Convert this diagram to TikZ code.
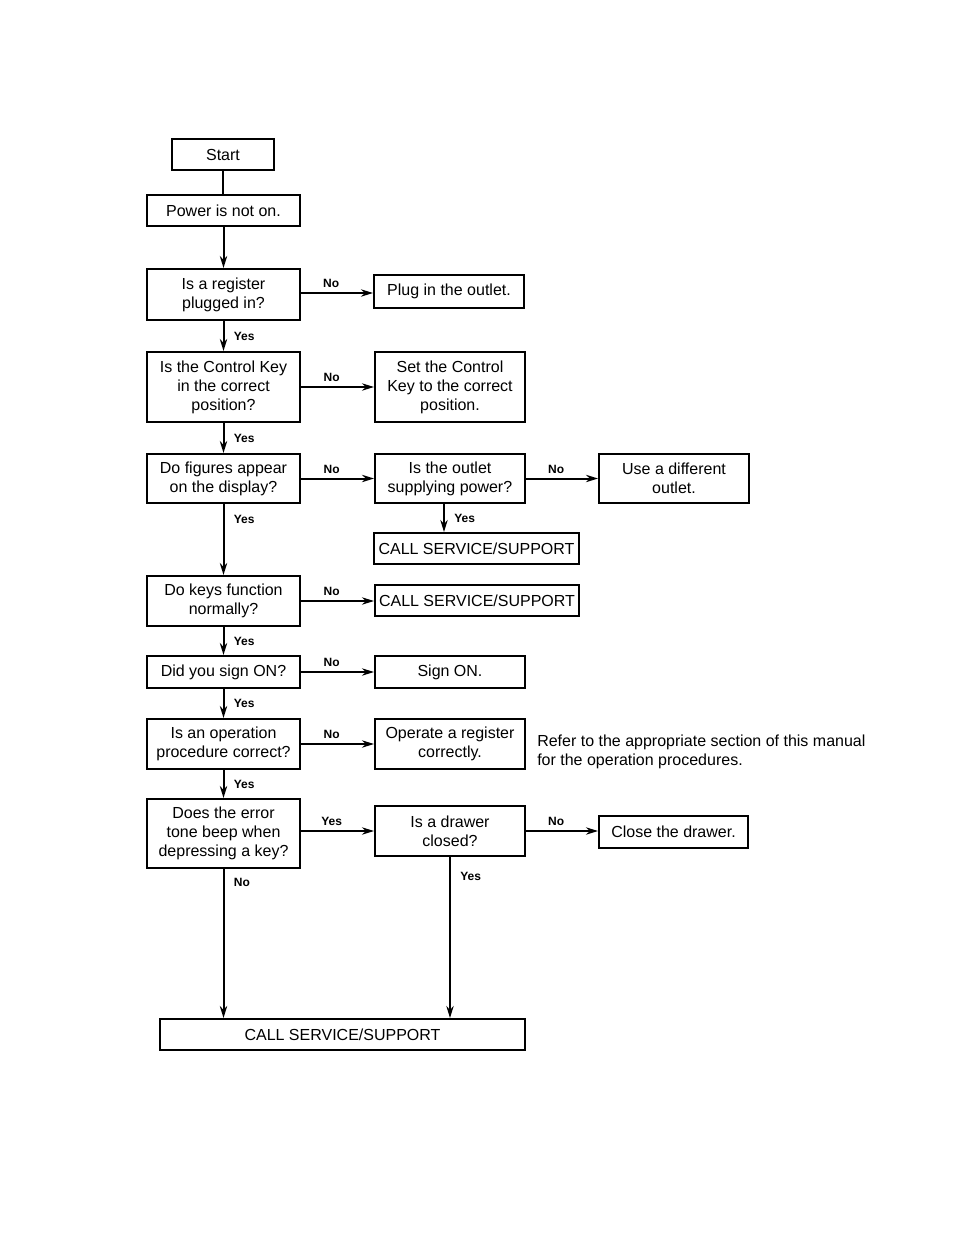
\documentclass[tikz,border=0pt]{standalone}
\usepackage{fontspec}
\setmainfont{Liberation Sans}
\usetikzlibrary{arrows.meta}
\begin{document}
\begin{tikzpicture}[x=0.75pt,y=-0.75pt,
  box/.style={draw,line width=1.5pt,rectangle,inner sep=0pt,align=center,
    font=\fontsize{12}{14.2}\selectfont},
  arr/.style={line width=1.5pt,-{Stealth[length=9pt,width=5.5pt]}},
  ln/.style={line width=1.5pt},
  lbl/.style={font=\fontsize{9}{10}\selectfont\bfseries,inner sep=1pt}]
\useasboundingbox (0,0) rectangle (954,1235);
\node[box,minimum width=0.75pt*102,minimum height=0.75pt*31] (start) at (223,154.5) {Start};
\node[box,minimum width=0.75pt*153,minimum height=0.75pt*31] (power) at (223.5,210.5) {Power is not on.};
\node[box,minimum width=0.75pt*153,minimum height=0.75pt*51] (reg) at (223.5,294.5) {Is a register\\plugged in?};
\node[box,minimum width=0.75pt*150,minimum height=0.75pt*33] (plug) at (449,291.5) {Plug in the outlet.};
\node[box,minimum width=0.75pt*153,minimum height=0.75pt*70] (ckey) at (223.5,387) {Is the Control Key\\in the correct\\position?};
\node[box,minimum width=0.75pt*150,minimum height=0.75pt*70] (setkey) at (450,387) {Set the Control\\Key to the correct\\position.};
\node[box,minimum width=0.75pt*153,minimum height=0.75pt*49] (fig) at (223.5,478.5) {Do figures appear\\on the display?};
\node[box,minimum width=0.75pt*150,minimum height=0.75pt*49] (outlet) at (450,478.5) {Is the outlet\\supplying power?};
\node[box,minimum width=0.75pt*150,minimum height=0.75pt*49] (diff) at (674,478.5) {Use a different\\outlet.};
\node[box,minimum width=0.75pt*205,minimum height=0.75pt*31] (call1) at (476.5,548.5) {CALL SERVICE/SUPPORT};
\node[box,minimum width=0.75pt*153,minimum height=0.75pt*50] (keys) at (223.5,601) {Do keys function\\normally?};
\node[box,minimum width=0.75pt*204,minimum height=0.75pt*31] (call2) at (477,600.5) {CALL SERVICE/SUPPORT};
\node[box,minimum width=0.75pt*153,minimum height=0.75pt*32] (sign) at (223.5,672) {Did you sign ON?};
\node[box,minimum width=0.75pt*150,minimum height=0.75pt*32] (signon) at (450,672) {Sign ON.};
\node[box,minimum width=0.75pt*153,minimum height=0.75pt*50] (oper) at (223.5,744) {Is an operation\\procedure correct?};
\node[box,minimum width=0.75pt*150,minimum height=0.75pt*50] (operate) at (450,744) {Operate a register\\correctly.};
\node[align=left,anchor=west,inner sep=0pt,font=\fontsize{12}{14.2}\selectfont] (refer) at (537,751.5) {Refer to the appropriate section of this manual\\for the operation procedures.};
\node[box,minimum width=0.75pt*153,minimum height=0.75pt*69] (err) at (223.5,833.5) {Does the error\\tone beep when\\depressing a key?};
\node[box,minimum width=0.75pt*150,minimum height=0.75pt*50] (drawer) at (450,831) {Is a drawer\\closed?};
\node[box,minimum width=0.75pt*149,minimum height=0.75pt*32] (close) at (673.5,832) {Close the drawer.};
\node[box,minimum width=0.75pt*365,minimum height=0.75pt*31] (callb) at (342.5,1034.5) {CALL SERVICE/SUPPORT};
% vertical main line
\draw[ln] (start.south) -- (start.south |- power.north);
\draw[arr] (power.south) -- (power.south |- reg.north);
\draw[arr] (reg.south) -- (reg.south |- ckey.north) node[lbl,midway,right,xshift=6pt] {Yes};
\draw[arr] (ckey.south) -- (ckey.south |- fig.north) node[lbl,midway,right,xshift=6pt] {Yes};
\draw[arr] (fig.south) -- (fig.south |- keys.north) node[lbl,pos=0.22,right,xshift=6pt] {Yes};
\draw[arr] (keys.south) -- (keys.south |- sign.north) node[lbl,midway,right,xshift=6pt] {Yes};
\draw[arr] (sign.south) -- (sign.south |- oper.north) node[lbl,midway,right,xshift=6pt] {Yes};
\draw[arr] (oper.south) -- (oper.south |- err.north) node[lbl,midway,right,xshift=6pt] {Yes};
\draw[arr] (err.south) -- (err.south |- callb.north) node[lbl,pos=0.09,right,xshift=6pt] {No};
% horizontal branches
\coordinate (r1) at (reg.east |- 0,293);
\draw[arr] (r1) -- (r1 -| plug.west) node[lbl,pos=0.42,above,yshift=2pt] {No};
\draw[arr] (ckey.east) -- (ckey.east -| setkey.west) node[lbl,pos=0.42,above,yshift=2pt] {No};
\draw[arr] (fig.east) -- (outlet.west) node[lbl,pos=0.42,above,yshift=2pt] {No};
\draw[arr] (outlet.east) -- (diff.west) node[lbl,pos=0.42,above,yshift=2pt] {No};
\draw[arr] ([xshift=-4.5pt]outlet.south) -- ([xshift=-4.5pt]outlet.south |- call1.north) node[lbl,midway,right,xshift=6pt] {Yes};
\draw[arr] (keys.east) -- (keys.east -| call2.west) node[lbl,pos=0.42,above,yshift=2pt] {No};
\draw[arr] (sign.east) -- (signon.west) node[lbl,pos=0.42,above,yshift=2pt] {No};
\draw[arr] (oper.east) -- (operate.west) node[lbl,pos=0.42,above,yshift=2pt] {No};
\draw[arr] (err.east |- drawer.west) -- (drawer.west) node[lbl,pos=0.42,above,yshift=2pt] {Yes};
\draw[arr] (drawer.east) -- (drawer.east -| close.west) node[lbl,pos=0.42,above,yshift=2pt] {No};
\draw[arr] (drawer.south) -- (drawer.south |- callb.north) node[lbl,pos=0.12,right,xshift=6pt] {Yes};
\end{tikzpicture}
\end{document}
